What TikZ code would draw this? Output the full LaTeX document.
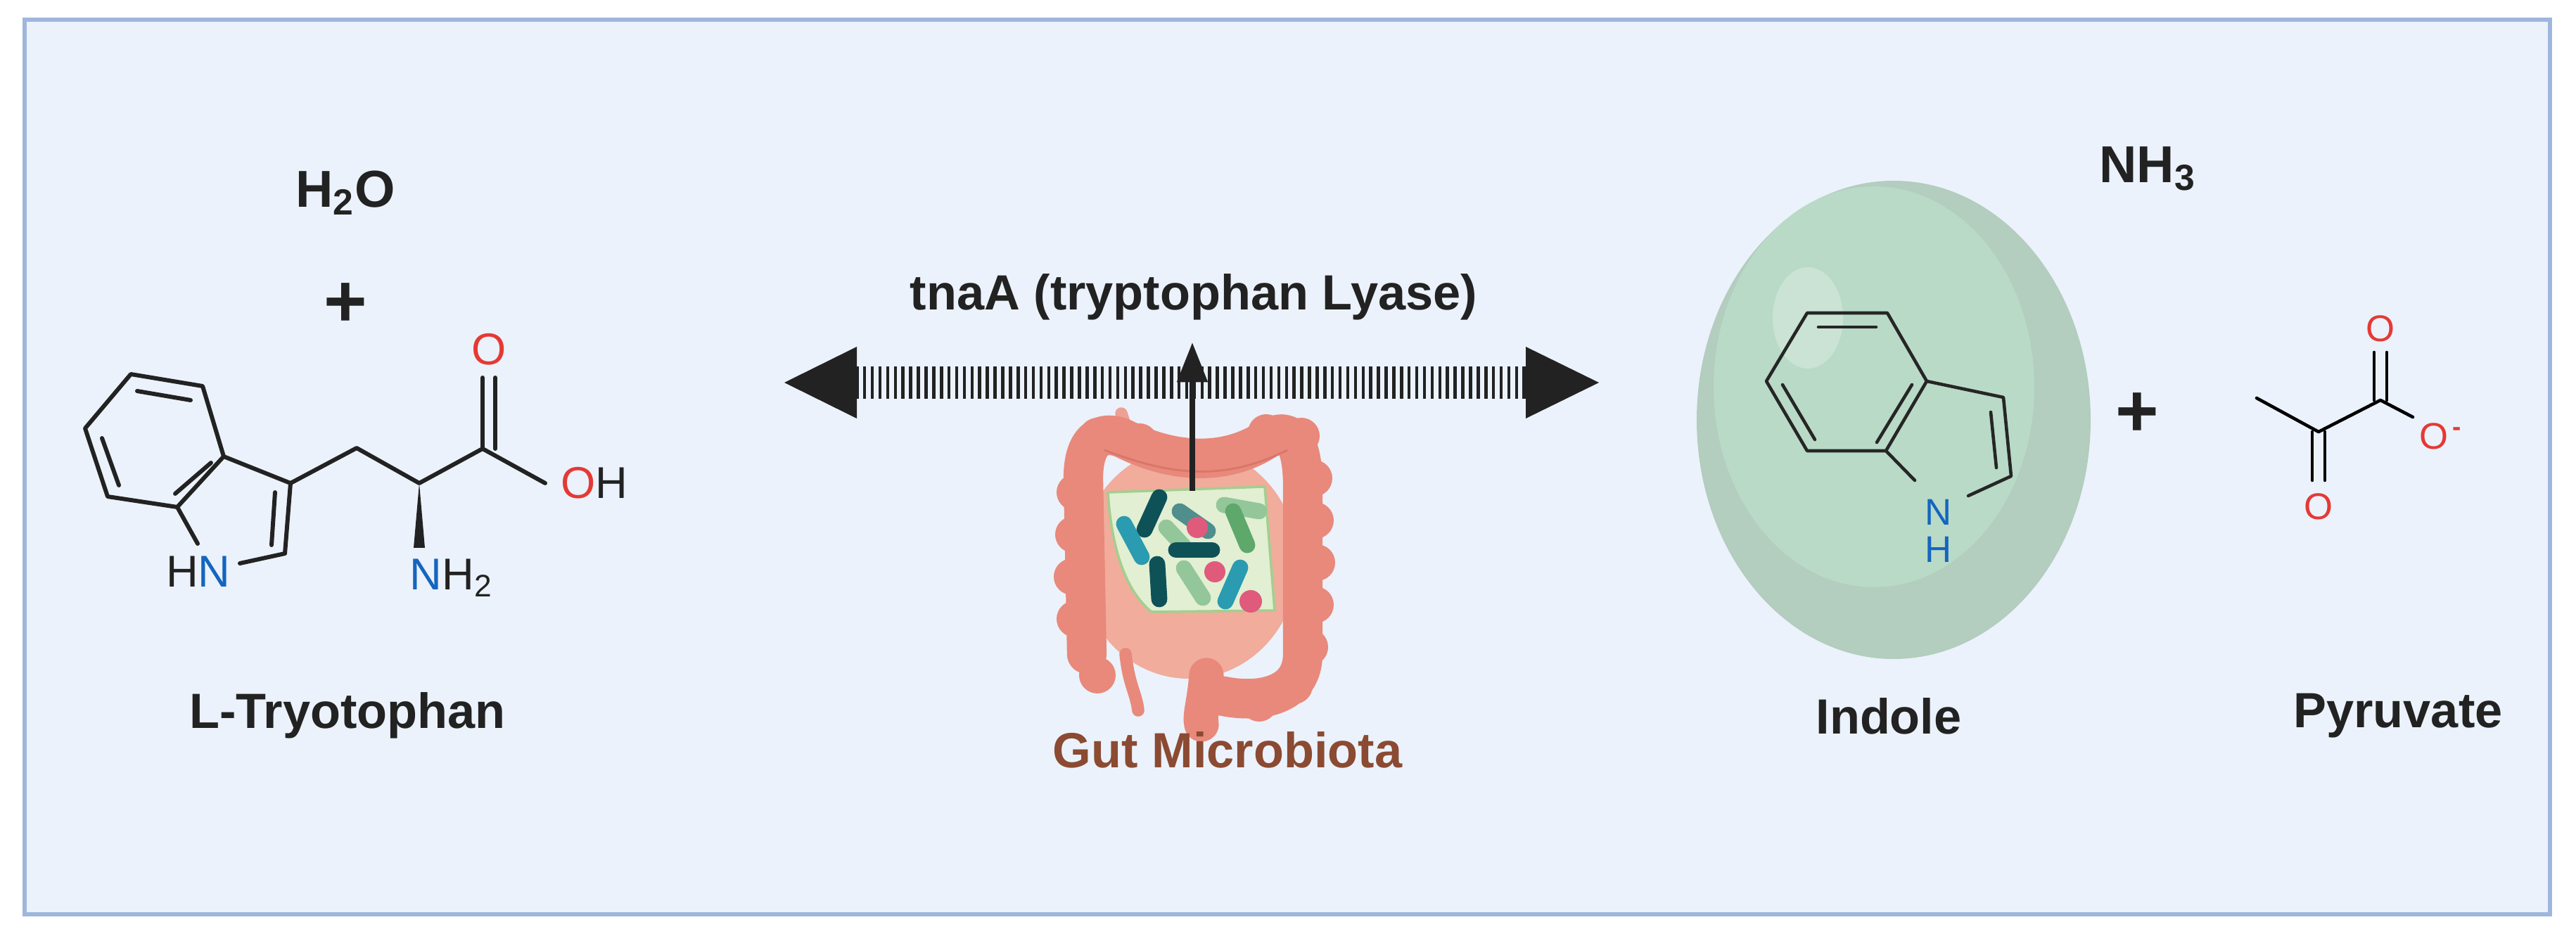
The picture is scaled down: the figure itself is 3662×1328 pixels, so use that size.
\documentclass[tikz,border=0pt]{standalone}
\usepackage{fontspec}
\setmainfont{Liberation Sans}
\usetikzlibrary{arrows.meta}
\definecolor{bg}{HTML}{EBF2FB}
\definecolor{frm}{HTML}{9FB6DD}
\definecolor{ink}{HTML}{222222}
\definecolor{nblue}{HTML}{1565C0}
\definecolor{ored}{HTML}{E53935}
\definecolor{colon}{HTML}{E8897B}
\definecolor{colond}{HTML}{D8766A}
\definecolor{inner}{HTML}{F1AC9C}
\definecolor{boxg}{HTML}{E2EFD3}
\definecolor{boxgd}{HTML}{A3CF8F}
\definecolor{dteal}{HTML}{0E5257}
\definecolor{bteal}{HTML}{2A9BB0}
\definecolor{gteal}{HTML}{4F8E8C}
\definecolor{lgreen}{HTML}{93C79A}
\definecolor{mgreen}{HTML}{5FA86B}
\definecolor{pinkc}{HTML}{E05A7C}
\definecolor{brownt}{HTML}{8B4A32}
\definecolor{balo}{HTML}{B3CDBE}
\definecolor{bali}{HTML}{B9DAC6}
\begin{document}
\begin{tikzpicture}[x=0.01cm,y=-0.01cm,
  bond/.style={line width=1.7pt,ink,line cap=round,line join=round},
  ibond/.style={line width=1.3pt,black!85,line cap=round,line join=round},
  lbl/.style={font=\bfseries\fontsize{20}{22}\selectfont,text=ink},
  big/.style={font=\bfseries\fontsize{21}{23}\selectfont,text=ink},
  pls/.style={font=\bfseries\fontsize{30}{32}\selectfont,text=ink},
  atom/.style={font=\fontsize{18}{20}\selectfont,inner sep=0pt},
  iatom/.style={font=\fontsize{15}{15}\selectfont,inner sep=0pt},
  rod/.style={line width=6.5pt,line cap=round}]
\useasboundingbox (0,0) rectangle (3662,1328);
\fill[white] (0,0) rectangle (3662,1328);
\draw[frm,fill=bg,line width=1.8pt] (35,28) rectangle (3625,1300);

% ---- L-tryptophan ----
\node[big] (h2o) at (491,274) {H\textsubscript{2}O};
\node[pls] (plus1) at (491,434) {+};
\draw[bond] (186,532)--(288,549)--(318,649)--(252,721)--(153,706)--(121,609)--cycle;
\draw[bond] (195,556)--(271,569);
\draw[bond] (300,658)--(249,702);
\draw[bond] (145,623)--(169,690);
\draw[bond] (318,649)--(413,687)--(405,787)--(341,801);
\draw[bond] (391,700)--(386,775);
\draw[bond] (252,721)--(281,773);
\node[atom,text=ink] (hn) at (282,813) {H\textcolor{nblue}{N}};
\draw[bond] (413,687)--(507,637)--(596,687)--(686,638)--(775,687);
\draw[bond] (686,638)--(686,537);
\draw[bond] (704,638)--(704,537);
\fill[ink] (596,687)--(588,779)--(604,779)--cycle;
\node[atom,text=ored] (o1) at (695,497) {O};
\node[atom] (oh) at (845,687) {\textcolor{ored}{O}\textcolor{ink}{H}};
\node[atom,anchor=west] (nh2) at (582,822) {\textcolor{nblue}{N}\textcolor{ink}{H\textsubscript{2}}};
\node[lbl] (trp) at (494,1017) {L-Tryotophan};

% ---- central arrow ----
\coordinate (aL) at (1216,544);
\coordinate (aR) at (2171,544);
\draw[ink,line width=12.8pt,dash pattern=on 1.3pt off 1.8pt] (aL)--(aR);
\fill[ink] (1115,544)--(1218,493)--(1218,595)--cycle;
\fill[ink] (2273,544)--(2169,493)--(2169,595)--cycle;
\node[lbl] (tna) at (1697,422) {tnaA (tryptophan Lyase)};

% ---- gut ----
\fill[inner] (1690,800) ellipse [x radius=155,y radius=165];
\draw[colon!80!white,line width=5pt,line cap=round] (1594,588)--(1606,625);
\draw[colon,line width=5pt,line cap=round] (1600,930) .. controls (1605,975) and (1615,985) .. (1618,1010);
\draw[colon,line width=16pt,line cap=round,line join=round]
  (1545,930)--(1540,680) .. controls (1540,620) and (1570,610) .. (1600,625)
  .. controls (1650,650) and (1730,670) .. (1800,625)
  .. controls (1840,600) and (1852,640) .. (1852,690)
  --(1852,930) .. controls (1852,990) and (1790,1000) .. (1740,990);
\draw[colon,line width=14pt,line cap=round] (1715,960) .. controls (1712,1000) and (1705,1015) .. (1708,1030);
\foreach \p in {(1528,700),(1526,760),(1524,820),(1528,880),(1560,960),(1868,680),(1870,740),(1872,800),(1870,860),(1862,920),(1840,975),(1790,1000),(1560,620),(1620,628),(1680,648),(1740,648),(1800,615),(1850,620)}
  \fill[colon] \p circle (26);
\draw[colond,line width=0.8pt] (1570,640) .. controls (1650,670) and (1730,690) .. (1830,640);

% green box and bacteria
\draw[boxgd,fill=boxg,line width=1pt] (1575,700)--(1798,692)--(1812,868)--(1637,870) .. controls (1600,840) and (1580,780) .. cycle;
\draw[rod,gteal] (1677,727)--(1717,755);
\draw[rod,lgreen] (1740,718)--(1790,727);
\draw[rod,lgreen] (1658,750)--(1683,777);
\draw[rod,dteal] (1648,707)--(1627,753);
\draw[rod,bteal] (1598,745)--(1623,792);
\draw[rod,mgreen] (1753,727)--(1773,775);
\fill[pinkc] (1702,750) circle (15);
\draw[rod,dteal] (1672,782)--(1723,782);
\draw[rod,dteal] (1645,802)--(1648,852);
\draw[rod,lgreen] (1683,808)--(1710,850);
\fill[pinkc] (1727,813) circle (15);
\draw[rod,bteal] (1763,807)--(1742,855);
\fill[pinkc] (1778,855) circle (16);

\coordinate (vA) at (1695,698);
\coordinate (vB) at (1695,487);
\draw[ink,line width=2.2pt,-{Triangle[length=16pt,width=12pt]}] (vA)--(vB);
\node[lbl,text=brownt] (gut) at (1745,1066) {Gut Microbiota};

% ---- indole ----
\fill[balo] (2692,597) ellipse [x radius=280,y radius=340];
\fill[bali] (2664,550) ellipse [x radius=228,y radius=285];
\fill[white,opacity=0.25] (2570,452) ellipse [x radius=50,y radius=72];
\node[big] (nh3) at (3053,240) {NH\textsubscript{3}};
\draw[ibond] (2569,445)--(2683,445)--(2739,542)--(2681,641)--(2569,641)--(2511,542)--cycle;
\draw[ibond] (2585,465)--(2667,465);
\draw[ibond] (2718,547)--(2668,629);
\draw[ibond] (2534,547)--(2580,625);
\draw[ibond] (2739,542)--(2848,565)--(2859,677)--(2798,705);
\draw[ibond] (2830,586)--(2838,665);
\draw[ibond] (2681,641)--(2722,683);
\node[iatom,text=nblue,align=center] (nh) at (2756,755) {N\\H};
\node[lbl] (ind) at (2685,1018) {Indole};
\node[pls] (plus2) at (3038,590) {+};

% ---- pyruvate ----
\draw[ibond,black] (3208,566)--(3296,614)--(3384,569)--(3430,593);
\draw[ibond,black] (3287,614)--(3287,683);
\draw[ibond,black] (3305,614)--(3305,683);
\draw[ibond,black] (3375,569)--(3375,501);
\draw[ibond,black] (3393,569)--(3393,501);
\node[iatom,text=ored] (po1) at (3296,720) {O};
\node[iatom,text=ored] (po2) at (3384,467) {O};
\node[iatom,text=ored] (po3) at (3470,620) {O\textsuperscript{\,\textbf{-}}};
\node[lbl] (pyr) at (3409,1018) {Pyruvate};
\end{tikzpicture}
\end{document}
